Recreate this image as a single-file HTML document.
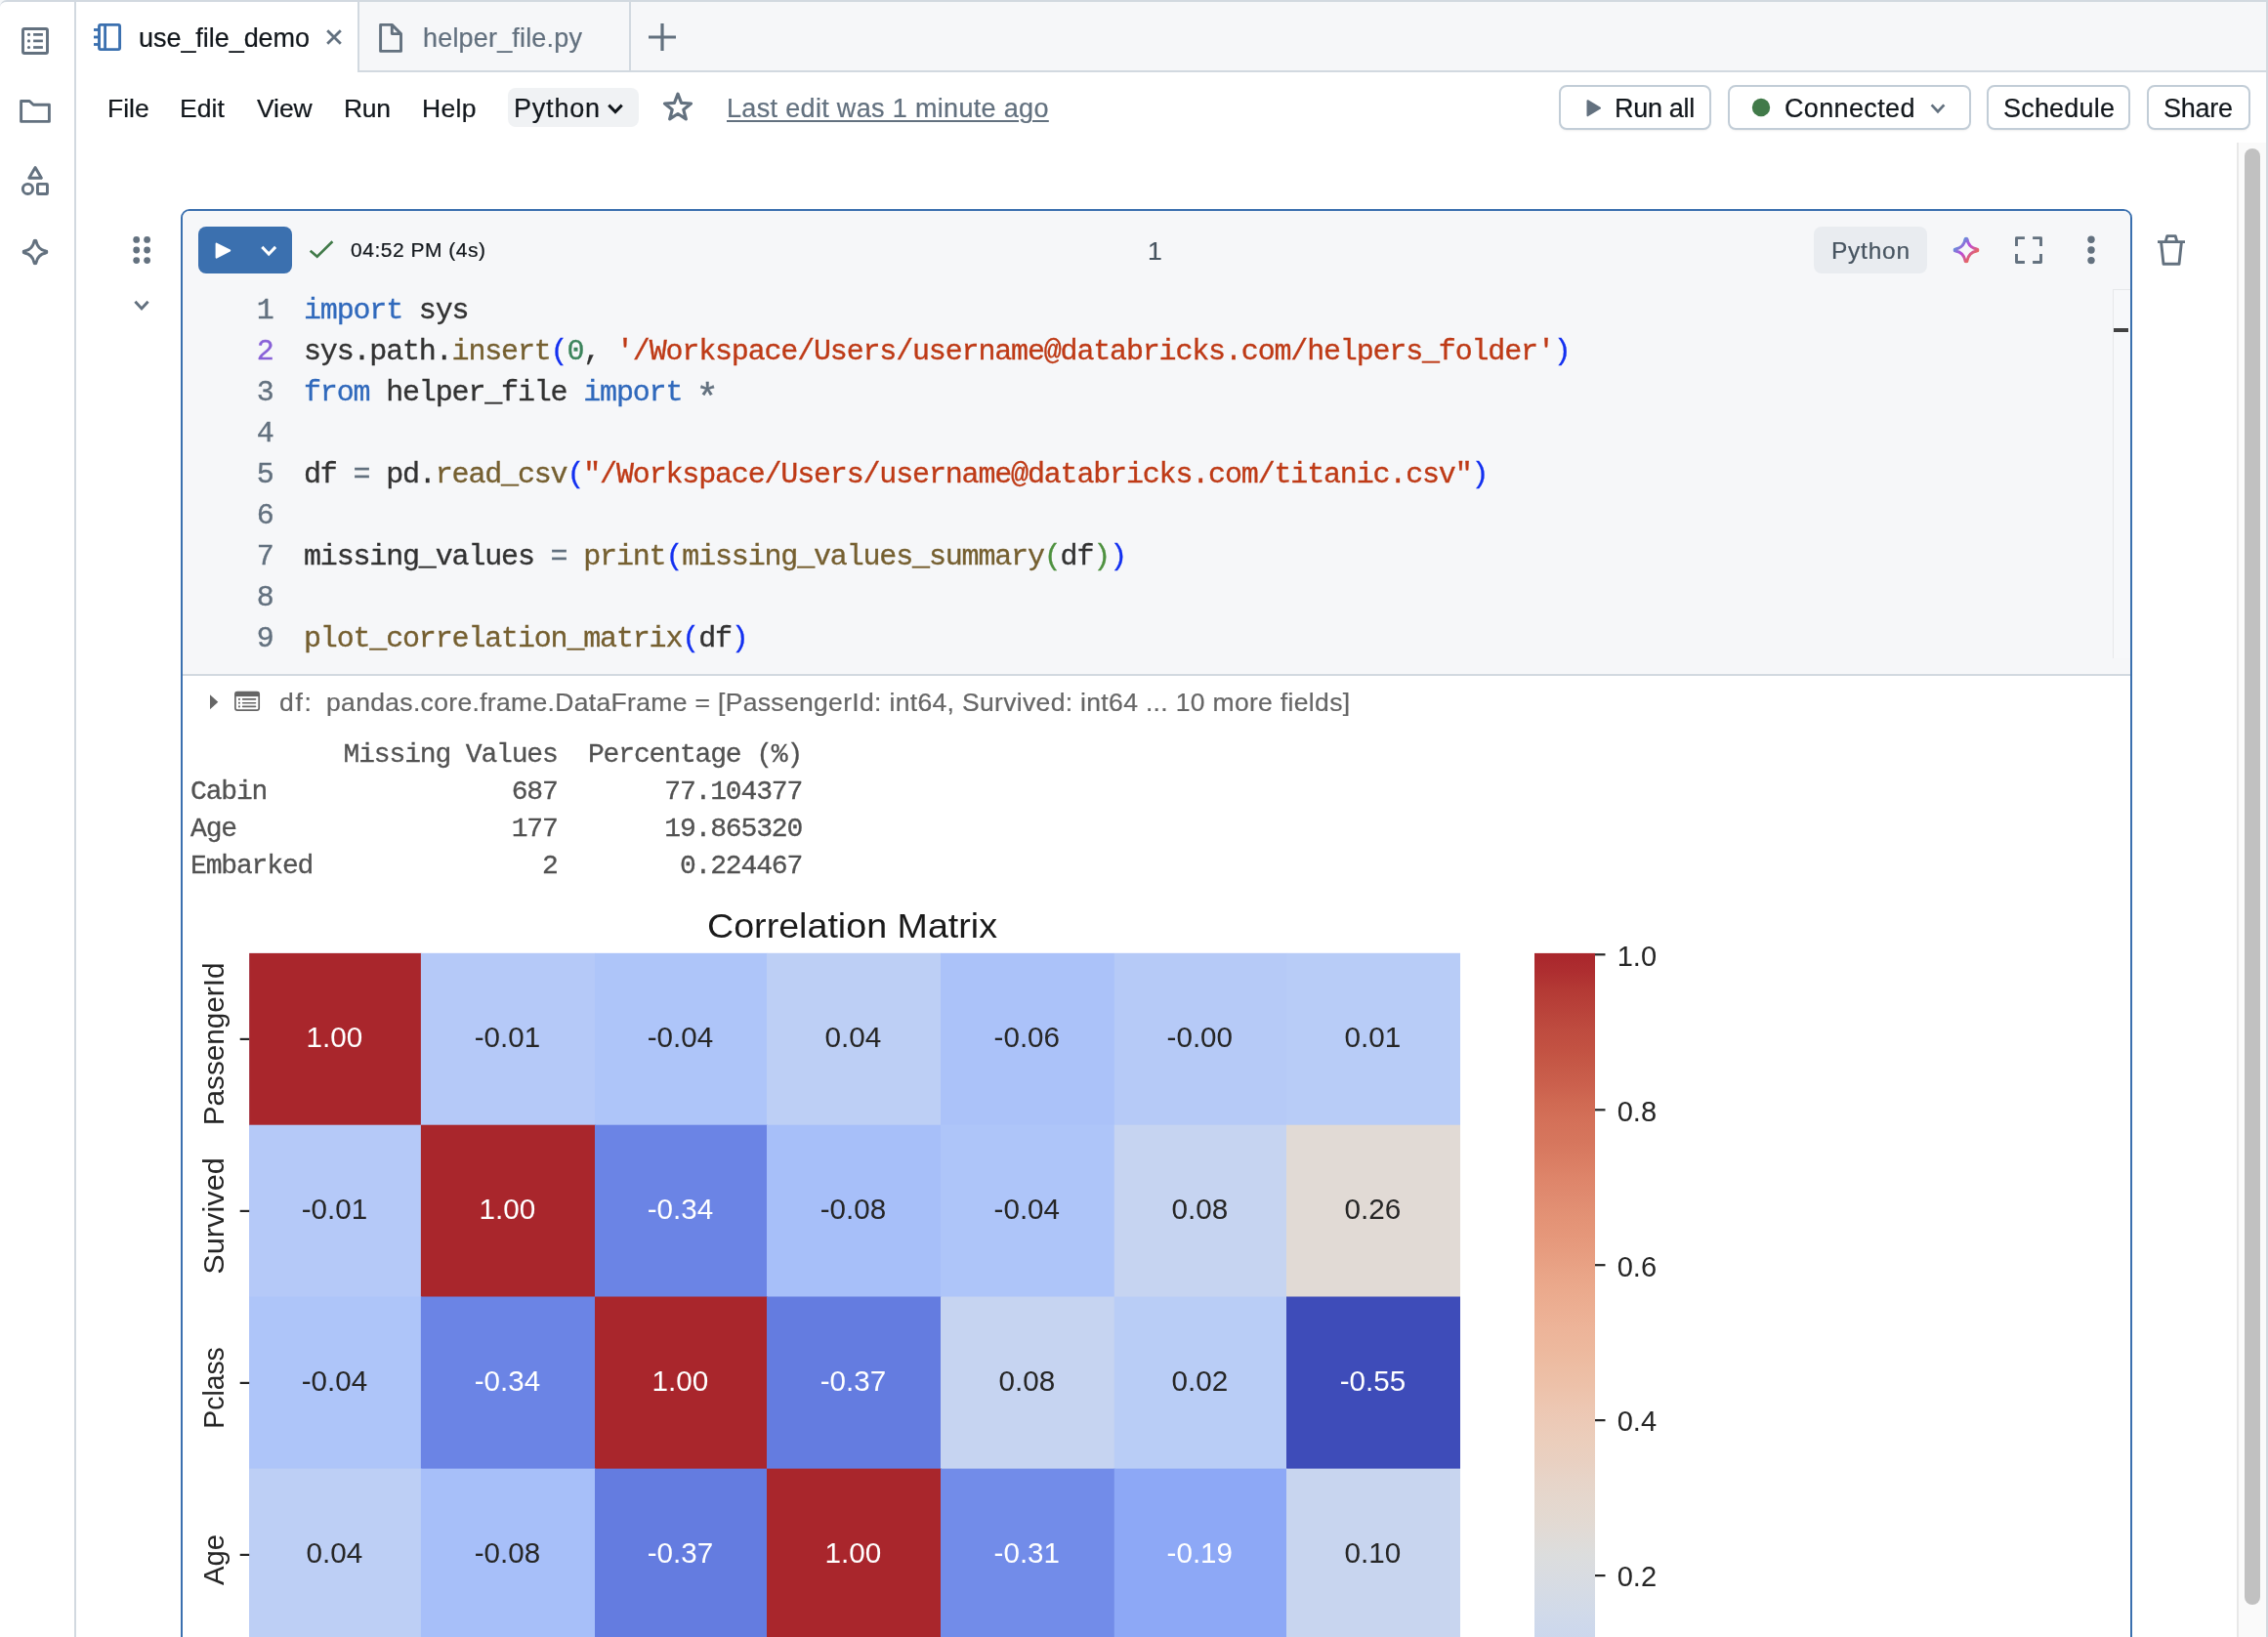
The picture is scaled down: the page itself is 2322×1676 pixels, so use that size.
<!DOCTYPE html>
<html lang="en"><head><meta charset="utf-8"><title>use_file_demo - Databricks</title>
<style>
*{box-sizing:border-box;margin:0;padding:0}
html,body{width:2322px;height:1676px;overflow:hidden;background:#f5f7f9}
body{font-family:"Liberation Sans",sans-serif;position:relative;color:#12171c}
.abs{position:absolute}
a{text-decoration:none}
button{font:inherit;color:inherit;appearance:none;-webkit-appearance:none;text-align:left;cursor:pointer}
.t{white-space:pre;will-change:transform;-webkit-text-stroke:0.22px currentColor}
svg{display:block;overflow:visible}
.win{left:0;top:0;width:2322px;height:1690px;background:#fff;border-top:2px solid #d2d9e0;border-right:2px solid #d2d9e0;border-top-left-radius:7px;overflow:hidden}
.cl{font:30px/42px "Liberation Mono",monospace;letter-spacing:-1.165px;white-space:pre;will-change:transform;-webkit-text-stroke:0.35px currentColor}
.ol{font:28px/38px "Liberation Mono",monospace;letter-spacing:-1.150px;white-space:pre;color:#525252;will-change:transform;-webkit-text-stroke:0.3px currentColor}
.btn{border:2px solid #c2cdd7;border-radius:8px;background:#fff;box-shadow:0 2px 3px -1px rgba(0,0,0,.05),0 1px 0 0 rgba(0,0,0,.02)}
</style></head><body>
<div class="abs win"></div>

<aside aria-label="Workspace sidebar">
<div class="abs" style="left:76px;top:2px;width:2px;height:1674px;background:#d2d9e0"></div>
<svg class="abs" style="left:0px;top:0px" width="76" height="300" viewBox="0 0 76 300" fill="none" ><rect x="23.5" y="29.5" width="25" height="25" rx="1.5" stroke="#63717f" stroke-width="2.9"/><circle cx="29.5" cy="35.4" r="1.55" fill="#63717f"/><rect x="34.1" y="34.05" width="9.8" height="2.7" fill="#63717f"/><circle cx="29.5" cy="41.9" r="1.55" fill="#63717f"/><rect x="34.1" y="40.55" width="9.8" height="2.7" fill="#63717f"/><circle cx="29.5" cy="48.5" r="1.55" fill="#63717f"/><rect x="34.1" y="47.15" width="9.8" height="2.7" fill="#63717f"/><path d="M21.6,103.5 H30.2 L34.2,107.2 H50.4 V124.4 H21.6 Z" stroke="#63717f" stroke-width="2.9" stroke-linejoin="round"/><path d="M36.1,171.5 L42.4,182.2 H29.8 Z" stroke="#63717f" stroke-width="2.9" stroke-linejoin="round"/><circle cx="28.45" cy="193.45" r="5.1" stroke="#63717f" stroke-width="2.9"/><rect x="38.45" y="188.35" width="10" height="10.2" rx="0.8" stroke="#63717f" stroke-width="2.9"/><path d="M37.00,247.10 C38.00,252.40 41.60,256.00 46.90,257.00 A1.0,1.0 0 0 1 46.90,259.00 C41.60,260.00 38.00,263.60 37.00,268.90 A1.0,1.0 0 0 1 35.00,268.90 C34.00,263.60 30.40,260.00 25.10,259.00 A1.0,1.0 0 0 1 25.10,257.00 C30.40,256.00 34.00,252.40 35.00,247.10 A1.0,1.0 0 0 1 37.00,247.10 Z" stroke="#63717f" stroke-width="2.9" stroke-linejoin="round"/></svg>
</aside>

<header aria-label="Open tabs">
<div class="abs" style="left:366px;top:2px;width:1954px;height:72px;background:#f6f7f9;border-bottom:2px solid #d2d9e0"></div>
<div class="abs" style="left:366px;top:2px;width:2px;height:72px;background:#d2d9e0"></div>
<div class="abs" style="left:644px;top:2px;width:2px;height:70px;background:#d2d9e0"></div>
<svg class="abs" style="left:90px;top:10px" width="620" height="60" viewBox="90 10 620 60" fill="none" ><rect x="101.5" y="25.4" width="21.1" height="25.2" rx="1.5" stroke="#3b70af" stroke-width="2.9"/><rect x="106.2" y="25.4" width="2.8" height="25.2" fill="#3b70af"/><rect x="96" y="29.1" width="5" height="2.8" fill="#3b70af"/><rect x="96" y="36.6" width="5" height="2.8" fill="#3b70af"/><rect x="96" y="44.1" width="5" height="2.8" fill="#3b70af"/><path d="M335.2,31.2 L348.8,44.8 M348.8,31.2 L335.2,44.8" stroke="#63717f" stroke-width="2.8"/><path d="M389.6,25.4 H401.3 L410.5,34.6 V52.4 H389.6 Z M401.3,25.4 V34.6 H410.5" stroke="#63717f" stroke-width="2.9" stroke-linejoin="round"/><path d="M678,24 V52 M664,38 H692" stroke="#63717f" stroke-width="3.2"/></svg>
<div class="abs t " role="tab" aria-selected="true" style="left:142.20px;top:21.50px;font-size:27px;line-height:35px;color:#12171c;letter-spacing:-0.05px;">use_file_demo</div>
<div class="abs t " role="tab" style="left:432.80px;top:21.50px;font-size:27px;line-height:35px;color:#63717f;letter-spacing:0.18px;">helper_file.py</div>
</header>

<nav aria-label="Notebook menu">
<a class="abs t "  style="left:109.60px;top:94.00px;font-size:26.5px;line-height:34px;color:#12171c;letter-spacing:0.0px;">File</a>
<a class="abs t "  style="left:184.20px;top:94.00px;font-size:26.5px;line-height:34px;color:#12171c;letter-spacing:0.04px;">Edit</a>
<a class="abs t "  style="left:262.90px;top:94.00px;font-size:26.5px;line-height:34px;color:#12171c;letter-spacing:-0.1px;">View</a>
<a class="abs t "  style="left:352.40px;top:94.00px;font-size:26.5px;line-height:34px;color:#12171c;letter-spacing:-0.3px;">Run</a>
<a class="abs t "  style="left:431.70px;top:94.00px;font-size:26.5px;line-height:34px;color:#12171c;letter-spacing:0.35px;">Help</a>
<button type="button" class="abs" aria-label="Default language" style="left:520px;top:90px;width:134px;height:40px;border:0;border-radius:8px;background:#f0f2f4"><span class="abs t "  style="left:6.20px;top:3.50px;font-size:27px;line-height:35px;color:#12171c;letter-spacing:0.8px;">Python</span></button>
<a class="abs t "  style="left:743.50px;top:93.50px;font-size:27px;line-height:35px;color:#63717f;letter-spacing:0.33px;"><span style="text-decoration:underline;text-decoration-thickness:2px;text-underline-offset:3px">Last edit was 1 minute ago</span></a>
<button type="button" class="abs btn" aria-label="Run all" style="left:1596px;top:87px;width:156px;height:46px"><span class="abs t "  style="left:55.40px;top:4.50px;font-size:27px;line-height:35px;color:#12171c;letter-spacing:-0.3px;">Run all</span></button>
<button type="button" class="abs btn" aria-label="Compute" style="left:1769px;top:87px;width:249px;height:46px"><span class="abs t "  style="left:55.90px;top:4.50px;font-size:27px;line-height:35px;color:#12171c;letter-spacing:0.36px;">Connected</span></button>
<button type="button" class="abs btn" aria-label="Schedule" style="left:2034px;top:87px;width:147px;height:46px"><span class="abs t "  style="left:14.60px;top:4.50px;font-size:27px;line-height:35px;color:#12171c;letter-spacing:0.2px;">Schedule</span></button>
<button type="button" class="abs btn" aria-label="Share" style="left:2198px;top:87px;width:106px;height:46px"><span class="abs t "  style="left:15.30px;top:4.50px;font-size:27px;line-height:35px;color:#12171c;letter-spacing:-0.27px;">Share</span></button>
<svg class="abs" style="left:600px;top:80px" width="1500" height="60" viewBox="600 80 1500 60" fill="none" ><path d="M623.3,107.6 L630,114.6 L636.7,107.6" stroke="#12171c" stroke-width="3.0" stroke-linejoin="miter"/><polygon points="694.00,96.20 697.59,105.46 707.51,106.01 699.80,112.29 702.35,121.89 694.00,116.50 685.65,121.89 688.20,112.29 680.49,106.01 690.41,105.46" stroke="#63717f" stroke-width="3.2" stroke-linejoin="round"/><path d="M1625.5,103.2 L1638,110.7 L1625.5,118.2 Z" fill="#63717f" stroke="#63717f" stroke-width="2" stroke-linejoin="round"/><circle cx="1803" cy="110" r="9.2" fill="#417a49"/><path d="M1977.6,107.39999999999999 L1984,114.2 L1990.4,107.39999999999999" stroke="#63717f" stroke-width="2.8" stroke-linejoin="miter"/></svg>
</nav>

<div class="abs" aria-hidden="true" style="left:2290px;top:146px;width:30px;height:1530px;background:#fafafa;border-left:2px solid #e8e8e8"></div>
<div class="abs" aria-hidden="true" style="left:2298px;top:152px;width:16px;height:1491px;border-radius:8px;background:#c1c1c1"></div>

<main aria-label="Notebook">
<section aria-label="Cell 1">
<div class="abs" style="left:185px;top:214px;width:1998px;height:1500px;border:2px solid #3b70af;border-radius:9px;background:#fff;overflow:hidden">
  <div class="abs" style="left:0;top:0;width:1994px;height:474px;background:#f6f7f9"></div>
  <div class="abs" style="left:0;top:474px;width:1994px;height:2px;background:#d2d9e0"></div>
  <div class="abs" style="left:1976px;top:80px;width:18px;height:378px;border-left:1.5px solid #e6e8ea;border-top:1.5px solid #e6e8ea;background:#f7f8fa"></div>
  <div class="abs" style="left:1977px;top:120px;width:15px;height:4px;background:#424242"></div>
</div>
<button type="button" class="abs" aria-label="Run cell" style="left:203px;top:232px;width:96px;height:48px;border:0;border-radius:8px;background:#3b70af"></button>
<svg class="abs" style="left:130px;top:230px" width="2120" height="510" viewBox="130 230 2120 510" fill="none" ><circle cx="139.7" cy="245.4" r="3.4" fill="#63717f"/><circle cx="139.7" cy="256" r="3.4" fill="#63717f"/><circle cx="139.7" cy="266.6" r="3.4" fill="#63717f"/><circle cx="150.6" cy="245.4" r="3.4" fill="#63717f"/><circle cx="150.6" cy="256" r="3.4" fill="#63717f"/><circle cx="150.6" cy="266.6" r="3.4" fill="#63717f"/><path d="M138.4,308.7 L145,315.90000000000003 L151.6,308.7" stroke="#63717f" stroke-width="2.9" stroke-linejoin="miter"/><path d="M221.6,249.6 L235.2,256.5 L221.6,263.6 Z" fill="#fff" stroke="#fff" stroke-width="2" stroke-linejoin="round"/><path d="M268.3,252.9 L275.2,260.1 L282.09999999999997,252.9" stroke="#fff" stroke-width="3.0" stroke-linejoin="miter"/><path d="M317.7,256.7 L324.7,262.7 L340.4,247.3" stroke="#417a49" stroke-width="2.6"/><defs><linearGradient id="ai" gradientUnits="userSpaceOnUse" x1="2000" y1="243" x2="2026" y2="269"><stop offset="0.2" stop-color="#5a97da"/><stop offset="0.47" stop-color="#bb4cd9"/><stop offset="0.8" stop-color="#ed6a50"/></linearGradient></defs><path d="M2014.00,245.20 C2015.00,250.40 2018.60,254.00 2023.80,255.00 A1.0,1.0 0 0 1 2023.80,257.00 C2018.60,258.00 2015.00,261.60 2014.00,266.80 A1.0,1.0 0 0 1 2012.00,266.80 C2011.00,261.60 2007.40,258.00 2002.20,257.00 A1.0,1.0 0 0 1 2002.20,255.00 C2007.40,254.00 2011.00,250.40 2012.00,245.20 A1.0,1.0 0 0 1 2014.00,245.20 Z" stroke="url(#ai)" stroke-width="3.0" stroke-linejoin="round"/><path d="M2064.5,252.0 V243.6 H2072.9 M2081.1,243.6 H2089.5 V252.0 M2089.5,260.1 V268.5 H2081.1 M2072.9,268.5 H2064.5 V260.1" stroke="#63717f" stroke-width="2.9" stroke-linejoin="round"/><circle cx="2141" cy="245.3" r="3.7" fill="#63717f"/><circle cx="2141" cy="256" r="3.7" fill="#63717f"/><circle cx="2141" cy="266.6" r="3.7" fill="#63717f"/><path d="M2209,247.6 H2237 M2217.2,247.4 L2218.8,241.6 H2227.2 L2228.8,247.4 M2212.6,248 L2215,270.3 H2231 L2233.4,248" stroke="#63717f" stroke-width="2.9" stroke-linejoin="round"/><path d="M215,711.3 L223.3,718.7 L215,726.2 Z" fill="#666666"/><rect x="240.9" y="708.5" width="24.3" height="18.6" rx="2.2" stroke="#666666" stroke-width="1.7"/><rect x="240.9" y="708.5" width="24.3" height="4.6" fill="#666666"/><rect x="244" y="715.0" width="1.9" height="1.8" fill="#666666"/><rect x="247.8" y="715.1" width="14.5" height="1.6" rx=".8" fill="#666666"/><rect x="244" y="718.8000000000001" width="1.9" height="1.8" fill="#666666"/><rect x="247.8" y="718.9000000000001" width="14.5" height="1.6" rx=".8" fill="#666666"/><rect x="244" y="722.5" width="1.9" height="1.8" fill="#666666"/><rect x="247.8" y="722.6" width="14.5" height="1.6" rx=".8" fill="#666666"/></svg>
<div class="abs t "  style="left:359.10px;top:242.00px;font-size:21px;line-height:27px;color:#12171c;letter-spacing:0.51px;">04:52 PM (4s)</div>
<div class="abs t "  style="left:1175.40px;top:240.00px;font-size:26.5px;line-height:34px;color:#475460;letter-spacing:0px;">1</div>
<div class="abs" style="left:1857px;top:232px;width:116px;height:48px;border-radius:8px;background:#e9ecf0"><span class="abs t "  style="left:18.30px;top:8.50px;font-size:24.5px;line-height:32px;color:#475460;letter-spacing:0.75px;">Python</span></div>
<div role="code" aria-label="Cell source">
<div class="abs cl" style="left:200px;width:79.5px;top:296.50px;text-align:right;color:#63717f">1</div>
<div class="abs cl" style="left:311px;top:296.50px;color:#323232"><span style="color:#3069bc">import</span> sys</div>
<div class="abs cl" style="left:200px;width:79.5px;top:338.50px;text-align:right;color:#8861d7">2</div>
<div class="abs cl" style="left:311px;top:338.50px;color:#323232">sys.path.<span style="color:#755f30">insert</span><span style="color:#1330f0">(</span><span style="color:#3c845c">0</span>, <span style="color:#be3a16">'/Workspace/Users/username@databricks.com/helpers_folder'</span><span style="color:#1330f0">)</span></div>
<div class="abs cl" style="left:200px;width:79.5px;top:380.50px;text-align:right;color:#63717f">3</div>
<div class="abs cl" style="left:311px;top:380.50px;color:#323232"><span style="color:#3069bc">from</span> helper_file <span style="color:#3069bc">import</span> <span style="color:#63717f;display:inline-block;transform:translateY(7px) scale(1.3)">*</span></div>
<div class="abs cl" style="left:200px;width:79.5px;top:422.50px;text-align:right;color:#63717f">4</div>
<div class="abs cl" style="left:200px;width:79.5px;top:464.50px;text-align:right;color:#63717f">5</div>
<div class="abs cl" style="left:311px;top:464.50px;color:#323232">df <span style="color:#63717f">=</span> pd.<span style="color:#755f30">read_csv</span><span style="color:#1330f0">(</span><span style="color:#be3a16">"/Workspace/Users/username@databricks.com/titanic.csv"</span><span style="color:#1330f0">)</span></div>
<div class="abs cl" style="left:200px;width:79.5px;top:506.50px;text-align:right;color:#63717f">6</div>
<div class="abs cl" style="left:200px;width:79.5px;top:548.50px;text-align:right;color:#63717f">7</div>
<div class="abs cl" style="left:311px;top:548.50px;color:#323232">missing_values <span style="color:#63717f">=</span> <span style="color:#755f30">print</span><span style="color:#1330f0">(</span><span style="color:#755f30">missing_values_summary</span><span style="color:#4e913f">(</span>df<span style="color:#4e913f">)</span><span style="color:#1330f0">)</span></div>
<div class="abs cl" style="left:200px;width:79.5px;top:590.50px;text-align:right;color:#63717f">8</div>
<div class="abs cl" style="left:200px;width:79.5px;top:632.50px;text-align:right;color:#63717f">9</div>
<div class="abs cl" style="left:311px;top:632.50px;color:#323232"><span style="color:#755f30">plot_correlation_matrix</span><span style="color:#1330f0">(</span>df<span style="color:#1330f0">)</span></div>
</div>
<div role="region" aria-label="Cell output">
<div class="abs t "  style="left:286.20px;top:701.50px;font-size:26.5px;line-height:34px;color:#666666;letter-spacing:1.7px;">df:</div>
<div class="abs t "  style="left:334.00px;top:701.50px;font-size:26.5px;line-height:34px;color:#666666;letter-spacing:0.33px;">pandas.core.frame.DataFrame = [PassengerId: int64, Survived: int64 ... 10 more fields]</div>
<div class="abs ol" style="left:194.6px;top:754.00px">          Missing Values  Percentage (%)</div>
<div class="abs ol" style="left:194.6px;top:792.00px">Cabin                687       77.104377</div>
<div class="abs ol" style="left:194.6px;top:830.00px">Age                  177       19.865320</div>
<div class="abs ol" style="left:194.6px;top:868.00px">Embarked               2        0.224467</div>
<figure aria-label="Correlation Matrix heatmap">
<svg class="abs" style="left:187px;top:900px;will-change:transform" width="1600" height="776" viewBox="187 900 1600 776" font-family="Liberation Sans, sans-serif">
<defs><linearGradient id="cw" x1="0" y1="0" x2="0" y2="1"><stop offset="0.0000" stop-color="#a9262c"/><stop offset="0.0156" stop-color="#ae2e30"/><stop offset="0.0312" stop-color="#b43a35"/><stop offset="0.0469" stop-color="#b9423a"/><stop offset="0.0625" stop-color="#be4b3f"/><stop offset="0.0781" stop-color="#c25142"/><stop offset="0.0938" stop-color="#c65947"/><stop offset="0.1094" stop-color="#cb604d"/><stop offset="0.1250" stop-color="#d06a53"/><stop offset="0.1406" stop-color="#d47159"/><stop offset="0.1562" stop-color="#d6765d"/><stop offset="0.1719" stop-color="#da7d63"/><stop offset="0.1875" stop-color="#de856a"/><stop offset="0.2031" stop-color="#e08b70"/><stop offset="0.2188" stop-color="#e39275"/><stop offset="0.2344" stop-color="#e5977a"/><stop offset="0.2500" stop-color="#e79d80"/><stop offset="0.2656" stop-color="#e9a487"/><stop offset="0.2812" stop-color="#ebaa8d"/><stop offset="0.2969" stop-color="#ecaf93"/><stop offset="0.3125" stop-color="#edb499"/><stop offset="0.3281" stop-color="#edb89d"/><stop offset="0.3438" stop-color="#edbda3"/><stop offset="0.3594" stop-color="#edc1a9"/><stop offset="0.3750" stop-color="#edc6b1"/><stop offset="0.3906" stop-color="#eccab7"/><stop offset="0.4062" stop-color="#ebcebc"/><stop offset="0.4219" stop-color="#e9d0c1"/><stop offset="0.4375" stop-color="#e7d4c8"/><stop offset="0.4531" stop-color="#e5d7cd"/><stop offset="0.4688" stop-color="#e3d9d1"/><stop offset="0.4844" stop-color="#e0dbd7"/><stop offset="0.5000" stop-color="#dcdddd"/><stop offset="0.5156" stop-color="#d9dce1"/><stop offset="0.5312" stop-color="#d5dbe5"/><stop offset="0.5469" stop-color="#d1dae9"/><stop offset="0.5625" stop-color="#cdd8ec"/><stop offset="0.5781" stop-color="#c9d6ef"/><stop offset="0.5938" stop-color="#c5d4f1"/><stop offset="0.6094" stop-color="#c0d1f4"/><stop offset="0.6250" stop-color="#bccef6"/><stop offset="0.6406" stop-color="#b7cbf7"/><stop offset="0.6562" stop-color="#b2c8f8"/><stop offset="0.6719" stop-color="#adc4f9"/><stop offset="0.6875" stop-color="#a9c1f9"/><stop offset="0.7031" stop-color="#a3bcf9"/><stop offset="0.7188" stop-color="#9eb7f9"/><stop offset="0.7344" stop-color="#98b3f8"/><stop offset="0.7500" stop-color="#93aef7"/><stop offset="0.7656" stop-color="#8da8f6"/><stop offset="0.7812" stop-color="#88a3f4"/><stop offset="0.7969" stop-color="#839ef2"/><stop offset="0.8125" stop-color="#7d98f0"/><stop offset="0.8281" stop-color="#7892ed"/><stop offset="0.8438" stop-color="#728ce9"/><stop offset="0.8594" stop-color="#6d86e6"/><stop offset="0.8750" stop-color="#6780e2"/><stop offset="0.8906" stop-color="#6279de"/><stop offset="0.9062" stop-color="#5c73d9"/><stop offset="0.9219" stop-color="#576cd4"/><stop offset="0.9375" stop-color="#5367d0"/><stop offset="0.9531" stop-color="#4c5fc9"/><stop offset="0.9688" stop-color="#4758c4"/><stop offset="0.9844" stop-color="#4251be"/><stop offset="1.0000" stop-color="#3e4cb9"/></linearGradient></defs>
<rect x="255.2" y="975.9" width="1239.8" height="704.1" fill="#b0c6f9"/>
<rect x="255.2" y="975.9" width="176.3" height="176.4" fill="#a9262c"/>
<rect x="430.9" y="975.9" width="178.7" height="176.4" fill="#b5c9f8"/>
<rect x="609.0" y="975.9" width="176.6" height="176.4" fill="#aec5f9"/>
<rect x="785.0" y="975.9" width="178.6" height="176.4" fill="#bdcff5"/>
<rect x="963.0" y="975.9" width="178.4" height="176.4" fill="#abc2f9"/>
<rect x="1140.8" y="975.9" width="176.8" height="176.4" fill="#b6caf7"/>
<rect x="1317.0" y="975.9" width="178.0" height="176.4" fill="#b8ccf7"/>
<rect x="255.2" y="1151.7" width="176.3" height="176.4" fill="#b5c9f8"/>
<rect x="430.9" y="1151.7" width="178.7" height="176.4" fill="#a9262c"/>
<rect x="609.0" y="1151.7" width="176.6" height="176.4" fill="#6b84e5"/>
<rect x="785.0" y="1151.7" width="178.6" height="176.4" fill="#a7bff9"/>
<rect x="963.0" y="1151.7" width="178.4" height="176.4" fill="#aec5f9"/>
<rect x="1140.8" y="1151.7" width="176.8" height="176.4" fill="#c6d4f1"/>
<rect x="1317.0" y="1151.7" width="178.0" height="176.4" fill="#e1dad5"/>
<rect x="255.2" y="1327.5" width="176.3" height="176.7" fill="#aec5f9"/>
<rect x="430.9" y="1327.5" width="178.7" height="176.7" fill="#6b84e5"/>
<rect x="609.0" y="1327.5" width="176.6" height="176.7" fill="#a9262c"/>
<rect x="785.0" y="1327.5" width="178.6" height="176.7" fill="#647ce0"/>
<rect x="963.0" y="1327.5" width="178.4" height="176.7" fill="#c6d4f1"/>
<rect x="1140.8" y="1327.5" width="176.8" height="176.7" fill="#b9cdf6"/>
<rect x="1317.0" y="1327.5" width="178.0" height="176.7" fill="#3e4cb9"/>
<rect x="255.2" y="1503.6" width="176.3" height="177.0" fill="#bdcff5"/>
<rect x="430.9" y="1503.6" width="178.7" height="177.0" fill="#a7bff9"/>
<rect x="609.0" y="1503.6" width="176.6" height="177.0" fill="#647ce0"/>
<rect x="785.0" y="1503.6" width="178.6" height="177.0" fill="#a9262c"/>
<rect x="963.0" y="1503.6" width="178.4" height="177.0" fill="#728ce9"/>
<rect x="1140.8" y="1503.6" width="176.8" height="177.0" fill="#8da8f6"/>
<rect x="1317.0" y="1503.6" width="178.0" height="177.0" fill="#c8d5ef"/>
<text x="313.5" y="1072.3" font-size="28.6" textLength="57.8" lengthAdjust="spacingAndGlyphs" fill="#ffffff">1.00</text>
<text x="485.7" y="1072.3" font-size="28.6" textLength="67.4" lengthAdjust="spacingAndGlyphs" fill="#262626">-0.01</text>
<text x="662.7" y="1072.3" font-size="28.6" textLength="67.4" lengthAdjust="spacingAndGlyphs" fill="#262626">-0.04</text>
<text x="844.5" y="1072.3" font-size="28.6" textLength="57.8" lengthAdjust="spacingAndGlyphs" fill="#262626">0.04</text>
<text x="1017.6" y="1072.3" font-size="28.6" textLength="67.4" lengthAdjust="spacingAndGlyphs" fill="#262626">-0.06</text>
<text x="1194.6" y="1072.3" font-size="28.6" textLength="67.4" lengthAdjust="spacingAndGlyphs" fill="#262626">-0.00</text>
<text x="1376.5" y="1072.3" font-size="28.6" textLength="57.8" lengthAdjust="spacingAndGlyphs" fill="#262626">0.01</text>
<text x="308.7" y="1248.1" font-size="28.6" textLength="67.4" lengthAdjust="spacingAndGlyphs" fill="#262626">-0.01</text>
<text x="490.5" y="1248.1" font-size="28.6" textLength="57.8" lengthAdjust="spacingAndGlyphs" fill="#ffffff">1.00</text>
<text x="662.7" y="1248.1" font-size="28.6" textLength="67.4" lengthAdjust="spacingAndGlyphs" fill="#ffffff">-0.34</text>
<text x="839.7" y="1248.1" font-size="28.6" textLength="67.4" lengthAdjust="spacingAndGlyphs" fill="#262626">-0.08</text>
<text x="1017.6" y="1248.1" font-size="28.6" textLength="67.4" lengthAdjust="spacingAndGlyphs" fill="#262626">-0.04</text>
<text x="1199.4" y="1248.1" font-size="28.6" textLength="57.8" lengthAdjust="spacingAndGlyphs" fill="#262626">0.08</text>
<text x="1376.5" y="1248.1" font-size="28.6" textLength="57.8" lengthAdjust="spacingAndGlyphs" fill="#262626">0.26</text>
<text x="308.7" y="1423.9" font-size="28.6" textLength="67.4" lengthAdjust="spacingAndGlyphs" fill="#262626">-0.04</text>
<text x="485.7" y="1423.9" font-size="28.6" textLength="67.4" lengthAdjust="spacingAndGlyphs" fill="#ffffff">-0.34</text>
<text x="667.5" y="1423.9" font-size="28.6" textLength="57.8" lengthAdjust="spacingAndGlyphs" fill="#ffffff">1.00</text>
<text x="839.7" y="1423.9" font-size="28.6" textLength="67.4" lengthAdjust="spacingAndGlyphs" fill="#ffffff">-0.37</text>
<text x="1022.4" y="1423.9" font-size="28.6" textLength="57.8" lengthAdjust="spacingAndGlyphs" fill="#262626">0.08</text>
<text x="1199.4" y="1423.9" font-size="28.6" textLength="57.8" lengthAdjust="spacingAndGlyphs" fill="#262626">0.02</text>
<text x="1371.7" y="1423.9" font-size="28.6" textLength="67.4" lengthAdjust="spacingAndGlyphs" fill="#ffffff">-0.55</text>
<text x="313.5" y="1600.0" font-size="28.6" textLength="57.8" lengthAdjust="spacingAndGlyphs" fill="#262626">0.04</text>
<text x="485.7" y="1600.0" font-size="28.6" textLength="67.4" lengthAdjust="spacingAndGlyphs" fill="#262626">-0.08</text>
<text x="662.7" y="1600.0" font-size="28.6" textLength="67.4" lengthAdjust="spacingAndGlyphs" fill="#ffffff">-0.37</text>
<text x="844.5" y="1600.0" font-size="28.6" textLength="57.8" lengthAdjust="spacingAndGlyphs" fill="#ffffff">1.00</text>
<text x="1017.6" y="1600.0" font-size="28.6" textLength="67.4" lengthAdjust="spacingAndGlyphs" fill="#ffffff">-0.31</text>
<text x="1194.6" y="1600.0" font-size="28.6" textLength="67.4" lengthAdjust="spacingAndGlyphs" fill="#ffffff">-0.19</text>
<text x="1376.5" y="1600.0" font-size="28.6" textLength="57.8" lengthAdjust="spacingAndGlyphs" fill="#262626">0.10</text>
<rect x="245.7" y="1062.8" width="9.5" height="2.2" fill="#262626"/>
<text transform="translate(229.3,1152.3) rotate(-90)" font-size="28.6" textLength="166.8" lengthAdjust="spacingAndGlyphs" fill="#262626">PassengerId</text>
<rect x="245.7" y="1238.8" width="9.5" height="2.2" fill="#262626"/>
<text transform="translate(229.3,1304.7) rotate(-90)" font-size="28.6" textLength="119.5" lengthAdjust="spacingAndGlyphs" fill="#262626">Survived</text>
<rect x="245.7" y="1414.8" width="9.5" height="2.2" fill="#262626"/>
<text transform="translate(229.3,1462.7) rotate(-90)" font-size="28.6" textLength="83.5" lengthAdjust="spacingAndGlyphs" fill="#262626">Pclass</text>
<rect x="245.7" y="1590.8" width="9.5" height="2.2" fill="#262626"/>
<text transform="translate(229.3,1623.0) rotate(-90)" font-size="28.6" textLength="52.2" lengthAdjust="spacingAndGlyphs" fill="#262626">Age</text>
<text x="724" y="960" font-size="35" textLength="297" lengthAdjust="spacingAndGlyphs" fill="#1a1a1a">Correlation Matrix</text>
<rect x="1571" y="975.9" width="62" height="1232.0" fill="url(#cw)"/>
<rect x="1633" y="976.2" width="10.5" height="2.2" fill="#262626"/>
<text x="1655.7" y="988.6" font-size="28.6" textLength="40.4" lengthAdjust="spacingAndGlyphs" fill="#262626">1.0</text>
<rect x="1633" y="1135.2" width="10.5" height="2.2" fill="#262626"/>
<text x="1655.7" y="1147.5" font-size="28.6" textLength="40.4" lengthAdjust="spacingAndGlyphs" fill="#262626">0.8</text>
<rect x="1633" y="1294.1" width="10.5" height="2.2" fill="#262626"/>
<text x="1655.7" y="1306.5" font-size="28.6" textLength="40.4" lengthAdjust="spacingAndGlyphs" fill="#262626">0.6</text>
<rect x="1633" y="1453.0" width="10.5" height="2.2" fill="#262626"/>
<text x="1655.7" y="1465.4" font-size="28.6" textLength="40.4" lengthAdjust="spacingAndGlyphs" fill="#262626">0.4</text>
<rect x="1633" y="1612.0" width="10.5" height="2.2" fill="#262626"/>
<text x="1655.7" y="1624.4" font-size="28.6" textLength="40.4" lengthAdjust="spacingAndGlyphs" fill="#262626">0.2</text>
</svg>
</figure>
</div>
</section>
</main>
</body></html>
